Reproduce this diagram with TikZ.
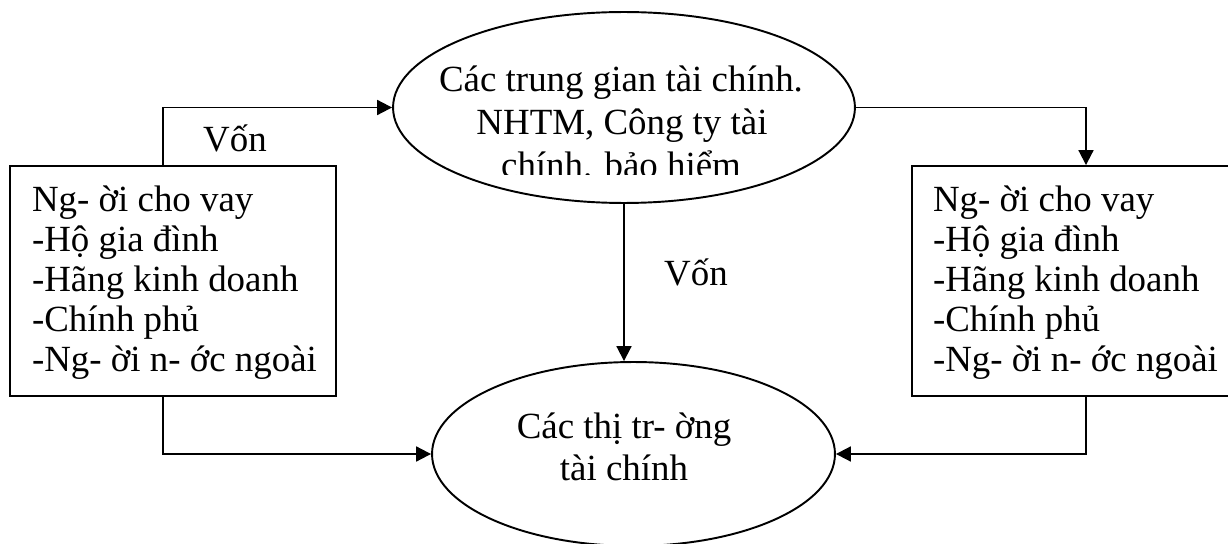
\documentclass[tikz,border=0pt]{standalone}
\usepackage{fontspec}
\setmainfont{Liberation Serif}
\usetikzlibrary{shapes.geometric,arrows.meta}
\tikzset{
  lw/.style={line width=1.1pt},
  boxnode/.style={draw,lw,rectangle,align=left,inner ysep=0pt,font=\fontsize{21}{22.7}\selectfont},
  ellnode/.style={draw,lw,ellipse,inner sep=0pt},
  txt/.style={inner sep=0pt,anchor=base,font=\fontsize{21}{22.7}\selectfont},
  arr/.style={lw,-{Triangle[length=8.5pt,width=8.5pt]}}
}
\newcommand{\normsp}{\spaceskip=0pt\xspaceskip=0pt\relax}
\newcommand{\topstrut}{\rule{0pt}{0.58cm}}
\begin{document}
\begin{tikzpicture}[x=0.02cm,y=-0.02cm]
\fill[white] (0,0) rectangle (1228,544);
\useasboundingbox (0,0) rectangle (1228,544);

% nodes
\node[ellnode,minimum width=9.24cm,minimum height=3.82cm] (te) at (624,107.5) {};
\node[ellnode,minimum width=8.06cm,minimum height=3.68cm] (be) at (633.5,454) {};

\node[boxnode,minimum width=6.52cm,minimum height=4.6cm,inner xsep=0.44cm,text width=5.64cm] (lb) at (173,281)
  {\normsp\topstrut\mbox{Ng- ời cho vay}\\\mbox{-Hộ gia đình}\\\mbox{-Hãng kinh doanh}\\\mbox{-Chính phủ}\\\mbox{-Ng- ời n- ớc ngoài}};
\node[boxnode,minimum width=6.96cm,minimum height=4.6cm,inner xsep=0.42cm,text width=6.12cm] (rb) at (1086,281)
  {\normsp\topstrut\mbox{Ng- ời cho vay}\\\mbox{-Hộ gia đình}\\\mbox{-Hãng kinh doanh}\\\mbox{-Chính phủ}\\\mbox{-Ng- ời n- ớc ngoài}};

% ellipse texts
\node[txt] (t1) at (621,92) {Các trung gian tài chính.};
\node[txt] (t2) at (622,134) {NHTM, Công ty tài};
\begin{scope}
  \clip (300,100) rectangle (950,175);
  \node[txt] (t3) at (621,177) {chính. bảo hiểm};
\end{scope}
\node[txt] (b1) at (624,438) {Các thị tr- ờng};
\node[txt] (b2) at (624,480) {tài chính};

% labels
\node[txt] (v1) at (235,152) {Vốn};
\node[txt] (v2) at (696,285) {Vốn};

% connectors
\draw[arr] ([xshift=-0.2cm]lb.north) |- (te.west);
\draw[arr] (te.east) -| (rb.north);
\draw[arr] (te.south) -- (te.south |- be.north);
\draw[arr] ([xshift=-0.2cm]lb.south) |- (be.west);
\draw[arr] (rb.south) |- (be.east);
\end{tikzpicture}
\end{document}
